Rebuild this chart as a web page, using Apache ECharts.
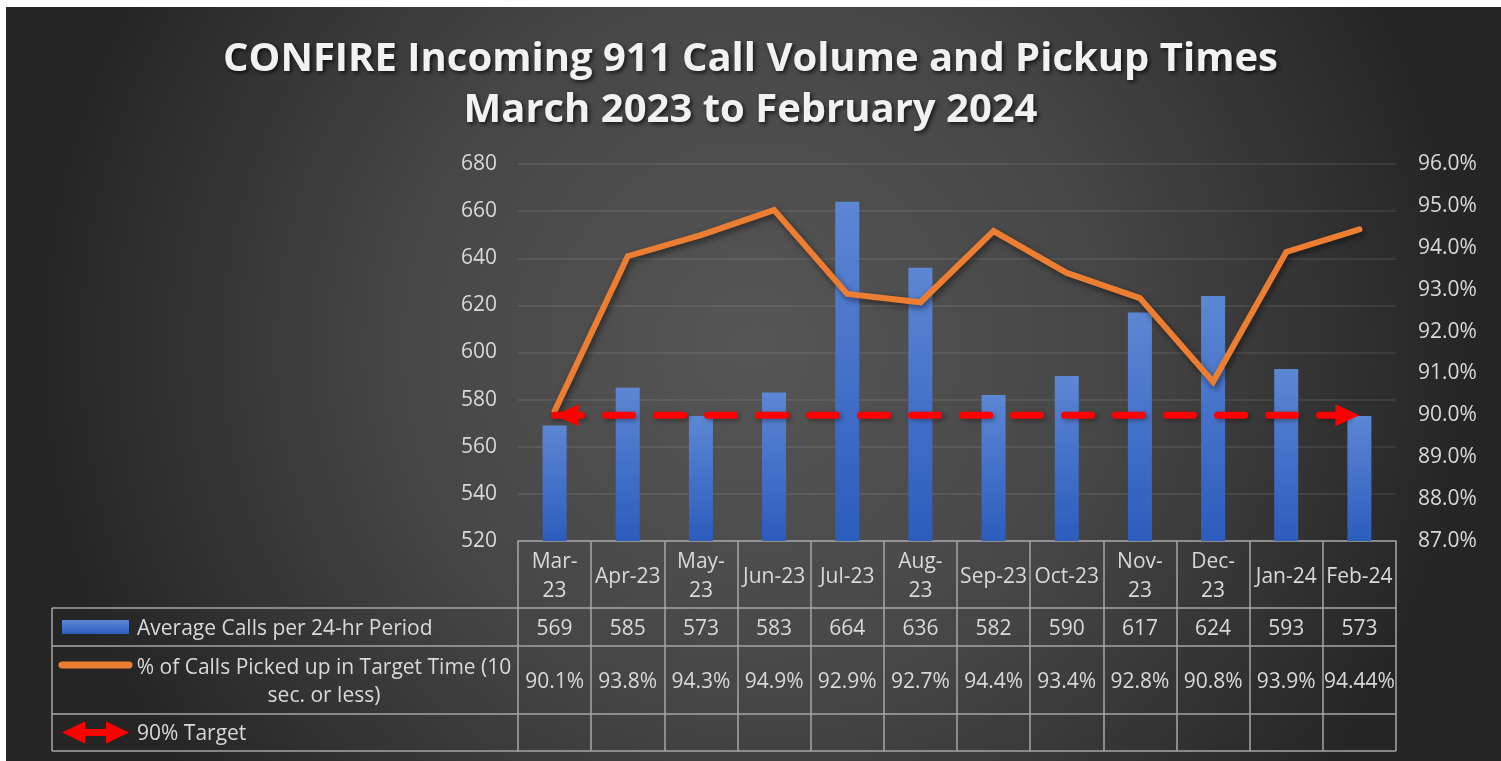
<!DOCTYPE html>
<html>
<head>
<meta charset="utf-8">
<script src="https://cdn.jsdelivr.net/npm/echarts@6/dist/echarts.min.js"></script>
<style>
html,body{margin:0;padding:0;background:#ffffff;}
#c{width:1501px;height:761px;}
</style>
</head>
<body>
<div id="c"></div>
<script>
// ---- data ----
const titleText = 'CONFIRE Incoming 911 Call Volume and Pickup Times\nMarch 2023 to February 2024';
const categories = ['Mar-23','Apr-23','May-23','Jun-23','Jul-23','Aug-23','Sep-23','Oct-23','Nov-23','Dec-23','Jan-24','Feb-24'];
const categoryLabels = ['Mar-\n23','Apr-23','May-\n23','Jun-23','Jul-23','Aug-\n23','Sep-23','Oct-23','Nov-\n23','Dec-\n23','Jan-24','Feb-24'];
const avgCalls = [569, 585, 573, 583, 664, 636, 582, 590, 617, 624, 593, 573];
const pctPickedUp = [90.1, 93.8, 94.3, 94.9, 92.9, 92.7, 94.4, 93.4, 92.8, 90.8, 93.9, 94.44];
const target = [90, 90, 90, 90, 90, 90, 90, 90, 90, 90, 90, 90];
const seriesNames = ['Average Calls per 24-hr Period', '% of Calls Picked up in Target Time (10\nsec. or less)', '90% Target'];
const leftAxis = {min: 520, max: 680, interval: 20};
const rightAxis = {min: 87, max: 96, interval: 1};

// ---- layout ----
const W = 1501, H = 761;
const GL = 518, GR = 1396, GT = 164, GB = 541;
const ROW = [GB, 608, 646, 714, 751];
const TBL_LEFT = 52;
const FONT = '"Open Sans", "Noto Sans", sans-serif';
const FS = 21;
const TXT = '#d9d9d9';
const LINE_C = '#a6a6a6';

const chart = echarts.init(document.getElementById('c'));

const targetData = target.map((v, i) => {
  if (i === 0) return {value: v, symbol: 'triangle', symbolSize: [22, 24], symbolRotate: 90, symbolOffset: [12, 0]};
  if (i === target.length - 1) return {value: v, symbol: 'triangle', symbolSize: [22, 24], symbolRotate: -90, symbolOffset: [-12, 0]};
  return {value: v, symbol: 'none'};
});

chart.setOption({
  animation: false,
  backgroundColor: 'transparent',
  title: {
    text: titleText,
    left: 'center',
    top: 29,
    textStyle: {
      fontFamily: FONT, fontSize: 40, fontWeight: 'bold', color: '#f2f2f2', lineHeight: 51,
      textShadowColor: 'rgba(0,0,0,0.7)', textShadowBlur: 4, textShadowOffsetX: 2, textShadowOffsetY: 2
    }
  },
  grid: {left: GL, right: W - GR, top: GT, bottom: H - GB, containLabel: false, outerBoundsMode: 'none'},
  xAxis: {
    type: 'category',
    data: categoryLabels,
    axisLine: {show: true, lineStyle: {color: LINE_C, width: 1.5}},
    axisTick: {show: true, interval: 0, length: ROW[4] - GB, lineStyle: {color: LINE_C, width: 1.5}},
    axisLabel: {interval: 0, color: TXT, fontFamily: FONT, fontSize: FS, lineHeight: 29, verticalAlign: 'middle', margin: 36},
    splitLine: {show: false}
  },
  yAxis: [
    {
      type: 'value', min: leftAxis.min, max: leftAxis.max, interval: leftAxis.interval,
      axisLine: {show: false}, axisTick: {show: false},
      axisLabel: {color: TXT, fontFamily: FONT, fontSize: FS, margin: 21},
      splitLine: {show: true, lineStyle: {color: 'rgba(255,255,255,0.10)', width: 1.5}}
    },
    {
      type: 'value', position: 'right', min: rightAxis.min, max: rightAxis.max, interval: rightAxis.interval,
      axisLine: {show: false}, axisTick: {show: false},
      axisLabel: {color: TXT, fontFamily: FONT, fontSize: FS, margin: 22, formatter: v => v.toFixed(1) + '%'},
      splitLine: {show: false}
    }
  ],
  series: [
    {
      name: seriesNames[0], type: 'bar', data: avgCalls, barWidth: 24, z: 2,
      itemStyle: {
        color: new echarts.graphic.LinearGradient(0, 0, 0, 1, [{offset: 0, color: '#5d87d4'}, {offset: 1, color: '#2c5cbd'}]),
        shadowColor: 'rgba(0,0,0,0.45)', shadowBlur: 6, shadowOffsetX: 3, shadowOffsetY: 2
      }
    },
    {
      name: seriesNames[1], type: 'line', yAxisIndex: 1, data: pctPickedUp, z: 3,
      symbol: 'none',
      lineStyle: {color: '#ed7d31', width: 6, cap: 'round', join: 'miter',
        shadowColor: 'rgba(0,0,0,0.5)', shadowBlur: 6, shadowOffsetX: 2, shadowOffsetY: 3}
    },
    {
      name: seriesNames[2], type: 'line', yAxisIndex: 1, data: targetData, z: 4,
      showSymbol: true, showAllSymbol: true, symbol: 'triangle',
      itemStyle: {color: '#ff0000'},
      lineStyle: {color: '#ff0000', width: 7, type: [27, 24], cap: 'round',
        shadowColor: 'rgba(0,0,0,0.35)', shadowBlur: 5, shadowOffsetX: 2, shadowOffsetY: 2}
    }
  ]
});

// ---- table and background built from the axis scale ----
const centers = categories.map((c, i) => chart.convertToPixel({xAxisIndex: 0}, i));
const lineStyle = {stroke: LINE_C, lineWidth: 1.5};
const font = FS + 'px ' + FONT;
const g = [];

g.push({
  type: 'rect', z: -100, silent: true,
  shape: {x: 6, y: 7, width: W - 6, height: H - 7},
  style: {fill: new echarts.graphic.RadialGradient(0.5, 0.45, 0.95, [
    {offset: 0, color: '#565656'}, {offset: 0.5, color: '#464646'}, {offset: 1, color: '#252525'}])}
});

// horizontal table lines
for (let r = 1; r < ROW.length; r++) {
  g.push({type: 'line', z: 10, shape: {x1: TBL_LEFT, y1: ROW[r], x2: GR, y2: ROW[r]}, style: lineStyle});
}
g.push({type: 'line', z: 10, shape: {x1: TBL_LEFT, y1: ROW[1], x2: TBL_LEFT, y2: ROW[4]}, style: lineStyle});

// values in rows
const rowY1 = (ROW[1] + ROW[2]) / 2, rowY2 = (ROW[2] + ROW[3]) / 2, rowY3 = (ROW[3] + ROW[4]) / 2;
const TY = 2;
centers.forEach((x, i) => {
  g.push({type: 'text', z: 10, x: x, y: rowY1 + TY, style: {text: String(avgCalls[i]), fill: TXT, font: font, textAlign: 'center', textVerticalAlign: 'middle'}});
  g.push({type: 'text', z: 10, x: x, y: rowY2 + TY, style: {text: pctPickedUp[i] + '%', fill: TXT, font: font, textAlign: 'center', textVerticalAlign: 'middle'}});
});

// legend keys
g.push({type: 'rect', z: 10, shape: {x: 62, y: rowY1 - 7, width: 67, height: 14},
  style: {fill: new echarts.graphic.LinearGradient(0, 0, 0, 1, [{offset: 0, color: '#5d87d4'}, {offset: 1, color: '#2c5cbd'}])}});
g.push({type: 'line', z: 10, shape: {x1: 62, y1: rowY2 - 15, x2: 129, y2: rowY2 - 15}, style: {stroke: '#ed7d31', lineWidth: 7, lineCap: 'round'}});
g.push({type: 'line', z: 10, shape: {x1: 82, y1: rowY3, x2: 106, y2: rowY3}, style: {stroke: '#ff0000', lineWidth: 7, lineCap: 'round'}});
g.push({type: 'polygon', z: 10, shape: {points: [[62, rowY3], [85, rowY3 - 11], [85, rowY3 + 11]]}, style: {fill: '#ff0000'}});
g.push({type: 'polygon', z: 10, shape: {points: [[129, rowY3], [106, rowY3 - 11], [106, rowY3 + 11]]}, style: {fill: '#ff0000'}});

// legend labels
g.push({type: 'text', z: 10, x: 137, y: rowY1 + TY, style: {text: seriesNames[0], fill: TXT, font: font, textAlign: 'left', textVerticalAlign: 'middle'}});
g.push({type: 'text', z: 10, x: 324, y: rowY2 + TY, style: {text: seriesNames[1], fill: TXT, font: font, textAlign: 'center', textVerticalAlign: 'middle', lineHeight: 28}});
g.push({type: 'text', z: 10, x: 137, y: rowY3 + TY, style: {text: seriesNames[2], fill: TXT, font: font, textAlign: 'left', textVerticalAlign: 'middle'}});

chart.setOption({graphic: {elements: g}});
</script>
</body>
</html>
